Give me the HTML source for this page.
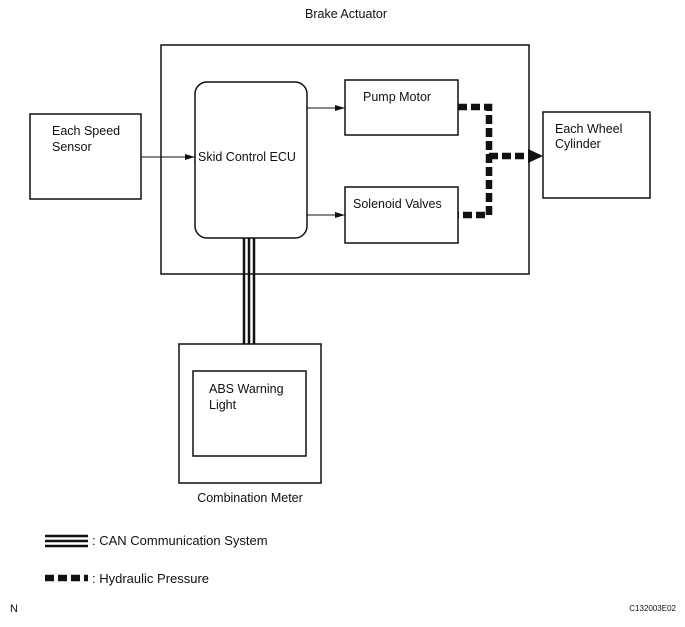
<!DOCTYPE html>
<html><head><style>
body{margin:0;background:#fff;}
svg text{font-family:"Liberation Sans",sans-serif;font-size:12.5px;fill:#111;}
</style></head><body>
<svg width="685" height="622" viewBox="0 0 685 622" xmlns="http://www.w3.org/2000/svg">
<defs><marker id="a" markerWidth="10" markerHeight="6" refX="10" refY="3" orient="auto" markerUnits="userSpaceOnUse"><path d="M0,0 L10,3 L0,6z" fill="#111"/></marker></defs>
<g fill="none" stroke="#111" stroke-width="1.5">
<rect x="161" y="45" width="368" height="229"/>
<rect x="195" y="82" width="112" height="156" rx="12"/>
<rect x="345" y="80" width="113" height="55"/>
<rect x="345" y="187" width="113" height="56"/>
<rect x="543" y="112" width="107" height="86"/>
<rect x="30" y="114" width="111" height="85"/>
<rect x="179" y="344" width="142" height="139"/>
<rect x="193" y="371" width="113" height="85"/>
<line x1="307" y1="108" x2="345" y2="108" stroke-width="1" marker-end="url(#a)"/>
<line x1="307" y1="215" x2="345" y2="215" stroke-width="1" marker-end="url(#a)"/>
<line x1="141" y1="157" x2="195" y2="157" stroke-width="1" marker-end="url(#a)"/>
</g>
<g stroke="#111" stroke-width="2.5">
<line x1="244" y1="238" x2="244" y2="344"/>
<line x1="249" y1="238" x2="249" y2="344"/>
<line x1="254" y1="238" x2="254" y2="344"/>
<line x1="45" y1="536" x2="88" y2="536"/>
<line x1="45" y1="541" x2="88" y2="541"/>
<line x1="45" y1="546" x2="88" y2="546"/>
</g>
<g fill="none" stroke="#111" stroke-width="6.5" stroke-dasharray="9,4">
<polyline points="458,107 489,107 489,215 458,215"/>
<line x1="489" y1="156" x2="530" y2="156"/>
<line x1="45" y1="578" x2="88" y2="578"/>
</g>
<path d="M528,149 L543,156 L528,163z" fill="#111"/>
<text x="346" y="18" text-anchor="middle">Brake Actuator</text>
<text x="198" y="161">Skid Control ECU</text>
<text x="363" y="101">Pump Motor</text>
<text x="353" y="208">Solenoid Valves</text>
<text x="555" y="133">Each Wheel</text>
<text x="555" y="148">Cylinder</text>
<text x="52" y="135">Each Speed</text>
<text x="52" y="151">Sensor</text>
<text x="209" y="393">ABS Warning</text>
<text x="209" y="409">Light</text>
<text x="250" y="502" text-anchor="middle">Combination Meter</text>
<text x="92" y="545" style="font-size:13px">: CAN Communication System</text>
<text x="92" y="583" style="font-size:13px">: Hydraulic Pressure</text>
<text x="10" y="612" style="font-size:11px">N</text>
<text x="676" y="611" text-anchor="end" style="font-size:8px">C132003E02</text>
</svg>
</body></html>
